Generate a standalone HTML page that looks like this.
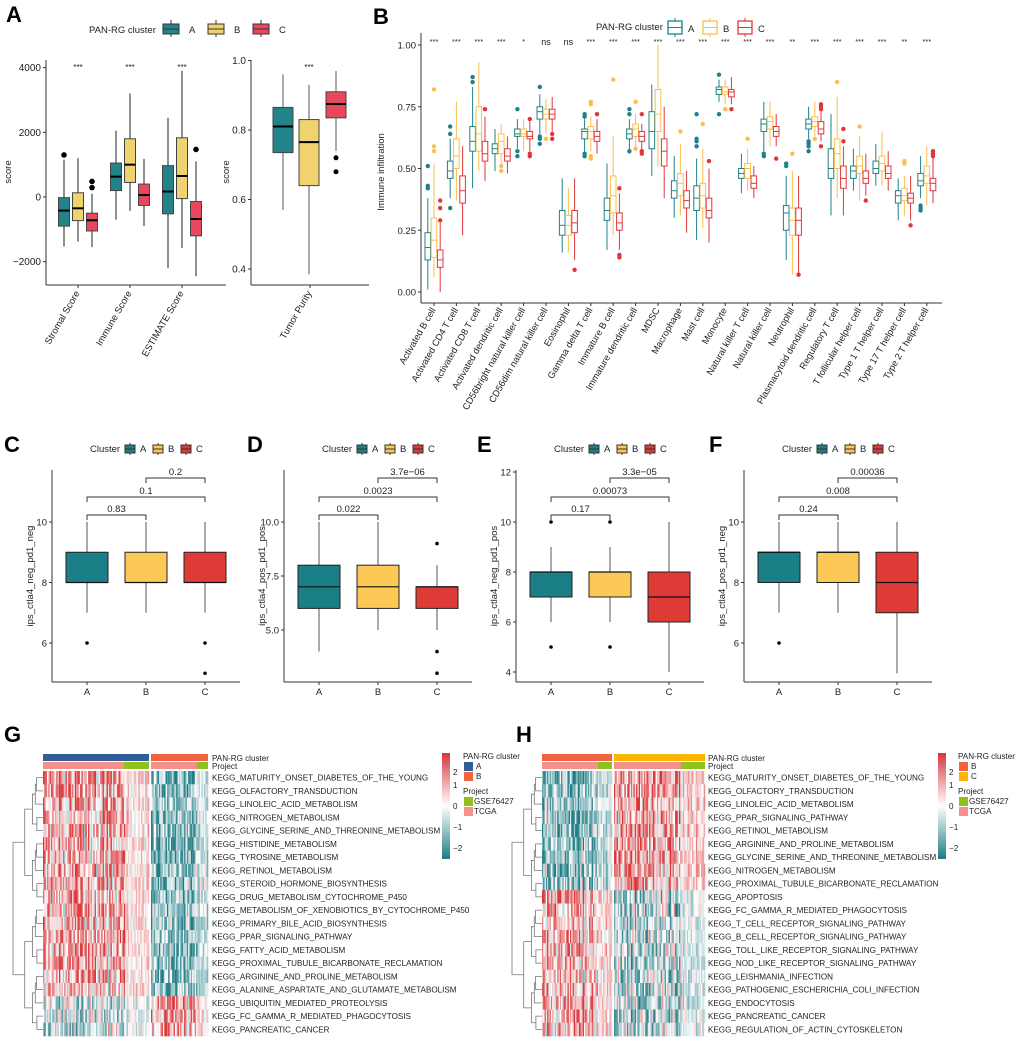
<!DOCTYPE html>
<html><head><meta charset="utf-8">
<style>
html,body{margin:0;padding:0;background:#fff;}
svg{display:block;font-family:"Liberation Sans",Arial,sans-serif;}
</style></head>
<body>
<svg id="fig" width="1020" height="1056" viewBox="0 0 1020 1056" xmlns="http://www.w3.org/2000/svg">
<defs>
<linearGradient id="cbar" x1="0" y1="0" x2="0" y2="1">
<stop offset="0" stop-color="#d9373a"/><stop offset="0.5" stop-color="#ffffff"/><stop offset="1" stop-color="#1d7c85"/>
</linearGradient>
</defs>
<g font-weight="bold" font-size="22" fill="#000">
<text x="6" y="22">A</text>
<text x="373" y="24">B</text>
<text x="4" y="452">C</text>
<text x="247" y="452">D</text>
<text x="477" y="452">E</text>
<text x="709" y="452">F</text>
<text x="4" y="742">G</text>
<text x="516" y="742">H</text>
</g>
<g id="root"></g>
</svg>
<script>
// ---------- Panel A data ----------
const aCategories = ["Stromal Score","Immune Score","ESTIMATE Score"];
const aStatsA = [[-1530,-900,-420,-20,1150],[-700,200,630,1050,2050],[-2200,-520,170,970,2450]];
const aStatsB = [[-1380,-730,-350,130,1200],[-430,450,1000,1800,3200],[-1580,-50,650,1830,3900]];
const aStatsC = [[-1550,-1050,-720,-500,100],[-900,-260,60,400,1180],[-2450,-1200,-680,-140,1100]];
const aOutA = [[1300],[],[]];
const aOutB = [[],[],[]];
const aOutC = [[290,480],[],[1470]];
const aTicks = [-2000,0,2000,4000];
const purityStats = [[0.57,0.735,0.81,0.865,0.96],[0.385,0.64,0.765,0.83,0.93],[0.74,0.835,0.875,0.91,0.97]];
const purityOut = [[],[],[0.72,0.68]];
const purityTicks = [0.4,0.6,0.8,1.0];

// ---------- Panel B data ----------
const bCategories = ["Activated B cell","Activated CD4 T cell","Activated CD8 T cell","Activated dendritic cell","CD56bright natural killer cell","CD56dim natural killer cell","Eosinophil","Gamma delta T cell","Immature  B cell","Immature dendritic cell","MDSC","Macrophage","Mast cell","Monocyte","Natural killer T cell","Natural killer cell","Neutrophil","Plasmacytoid dendritic cell","Regulatory T cell","T follicular helper cell","Type 1 T helper cell","Type 17 T helper cell","Type 2 T helper cell"];
const bSig = ["***","***","***","***","*","ns","ns","***","***","***","***","***","***","***","***","***","**","***","***","***","***","**","***"];
const bStatsA = [[.01,.13,.18,.24,.38],[.38,.46,.49,.53,.62],[.42,.57,.61,.67,.83],[.49,.56,.58,.60,.66],[.58,.63,.64,.66,.70],[.64,.70,.73,.75,.80],[.16,.23,.27,.33,.46],[.56,.62,.65,.66,.70],[.17,.29,.33,.38,.52],[.56,.62,.64,.66,.70],[.47,.58,.65,.73,.84],[.30,.38,.41,.45,.55],[.21,.33,.38,.43,.54],[.77,.80,.82,.83,.86],[.40,.46,.48,.50,.56],[.57,.65,.68,.70,.77],[.13,.25,.32,.35,.47],[.62,.66,.68,.70,.75],[.31,.46,.50,.58,.72],[.41,.46,.49,.51,.58],[.43,.48,.50,.53,.60],[.29,.36,.39,.41,.46],[.38,.43,.45,.48,.55]];
const bStatsB = [[.06,.14,.21,.30,.52],[.37,.50,.55,.62,.77],[.49,.57,.64,.75,.93],[.52,.56,.61,.64,.68],[.57,.63,.64,.66,.70],[.64,.70,.72,.74,.78],[.16,.23,.27,.31,.42],[.57,.62,.65,.67,.71],[.23,.32,.39,.47,.63],[.58,.63,.66,.68,.72],[.51,.65,.72,.82,1.0],[.31,.39,.44,.48,.60],[.26,.34,.39,.44,.58],[.76,.80,.81,.83,.86],[.41,.46,.50,.52,.58],[.59,.66,.69,.71,.77],[.07,.23,.29,.34,.49],[.63,.67,.69,.71,.77],[.38,.50,.56,.62,.79],[.37,.48,.51,.55,.63],[.43,.49,.52,.55,.65],[.31,.37,.39,.42,.47],[.35,.44,.47,.51,.59]];
const bStatsC = [[0,.10,.13,.17,.28],[.23,.36,.41,.47,.59],[.45,.53,.56,.61,.71],[.48,.53,.55,.58,.63],[.57,.62,.63,.65,.69],[.65,.70,.72,.74,.79],[.13,.24,.28,.33,.46],[.56,.61,.63,.65,.70],[.17,.25,.28,.32,.40],[.57,.61,.63,.65,.68],[.38,.51,.57,.62,.75],[.24,.34,.37,.41,.49],[.20,.30,.33,.38,.50],[.76,.79,.81,.82,.87],[.38,.42,.44,.47,.51],[.59,.63,.65,.67,.72],[.07,.23,.29,.34,.47],[.61,.64,.66,.69,.75],[.31,.42,.46,.51,.59],[.39,.44,.46,.49,.56],[.41,.46,.48,.51,.57],[.29,.36,.38,.40,.47],[.36,.41,.44,.46,.56]];
const bOutA = [[.42,.43,.51],[.34,.64,.67],[.85,.87],[],[.55,.57,.74],[.60,.62,.63,.83],[],[.55,.56,.71,.72],[],[.57,.72,.74],[],[],[.59,.61,.62,.72],[.72,.88],[],[.55,.56],[.51,.52],[.57,.59,.60,.61],[],[],[],[],[.33,.34,.35]];
const bOutB = [[.57,.59,.82],[],[],[.49,.51],[],[.62],[],[.54,.55,.76,.77],[.86],[.58,.77],[],[.65],[.68],[.74],[.62],[],[.56],[.62],[.85],[.67],[],[.52,.53],[]];
const bOutC = [[.29,.34,.37],[],[.74],[],[.55,.56,.70],[.62,.64],[.09],[.72],[.14,.15,.42],[.56,.57,.72],[],[],[.53],[.74],[],[.54],[.07],[.59,.74,.75,.76],[.61,.66],[.37],[],[.27],[.55,.56,.57]];
const bTicks = [0,0.25,0.5,0.75,1.0];

// ---------- Panels C-F data ----------
const cfGroups = ["A","B","C"];
const cStats = [[7,8,8,9,10],[7,8,8,9,10],[7,8,8,9,10]];
const cOut = [[6],[],[6,5]];
const cP = ["0.83","0.1","0.2"];
const cTicks = [6,8,10];
const dStats = [[4,6,7,8,10],[5,6,7,8,10],[5,6,7,7,8]];
const dOut = [[],[],[9,4,3]];
const dP = ["0.022","0.0023","3.7e\u221206"];
const dTicks = [5.0,7.5,10.0];
const eStats = [[6,7,8,8,9],[6,7,8,8,9],[4,6,7,8,10]];
const eOut = [[10,5],[10,5],[]];
const eP = ["0.17","0.00073","3.3e\u221205"];
const eTicks = [4,6,8,10,12];
const fStats = [[7,8,9,9,10],[7,8,9,9,10],[5,7,8,9,10]];
const fOut = [[6],[],[]];
const fP = ["0.24","0.008","0.00036"];
const fTicks = [6,8,10];

// ---------- Heatmap data ----------
const gRowLabels = ["MATURITY_ONSET_DIABETES_OF_THE_YOUNG","OLFACTORY_TRANSDUCTION","LINOLEIC_ACID_METABOLISM","NITROGEN_METABOLISM","GLYCINE_SERINE_AND_THREONINE_METABOLISM","HISTIDINE_METABOLISM","TYROSINE_METABOLISM","RETINOL_METABOLISM","STEROID_HORMONE_BIOSYNTHESIS","DRUG_METABOLISM_CYTOCHROME_P450","METABOLISM_OF_XENOBIOTICS_BY_CYTOCHROME_P450","PRIMARY_BILE_ACID_BIOSYNTHESIS","PPAR_SIGNALING_PATHWAY","FATTY_ACID_METABOLISM","PROXIMAL_TUBULE_BICARBONATE_RECLAMATION","ARGININE_AND_PROLINE_METABOLISM","ALANINE_ASPARTATE_AND_GLUTAMATE_METABOLISM","UBIQUITIN_MEDIATED_PROTEOLYSIS","FC_GAMMA_R_MEDIATED_PHAGOCYTOSIS","PANCREATIC_CANCER"];
const gMeanFirst = [1.1,1.0,1.0,0.9,1.0,0.9,0.9,1.0,0.9,0.9,0.9,0.9,1.0,1.0,1.0,0.9,0.9,-0.6,-0.6,-0.6];
const gMeanSecond = [-1.3,-1.2,-1.2,-1.2,-1.4,-1.3,-1.2,-1.3,-1.2,-1.2,-1.2,-1.2,-1.2,-1.3,-1.2,-1.2,-1.2,1.0,1.0,1.0];
const hRowLabels = ["MATURITY_ONSET_DIABETES_OF_THE_YOUNG","OLFACTORY_TRANSDUCTION","LINOLEIC_ACID_METABOLISM","PPAR_SIGNALING_PATHWAY","RETINOL_METABOLISM","ARGININE_AND_PROLINE_METABOLISM","GLYCINE_SERINE_AND_THREONINE_METABOLISM","NITROGEN_METABOLISM","PROXIMAL_TUBULE_BICARBONATE_RECLAMATION","APOPTOSIS","FC_GAMMA_R_MEDIATED_PHAGOCYTOSIS","T_CELL_RECEPTOR_SIGNALING_PATHWAY","B_CELL_RECEPTOR_SIGNALING_PATHWAY","TOLL_LIKE_RECEPTOR_SIGNALING_PATHWAY","NOD_LIKE_RECEPTOR_SIGNALING_PATHWAY","LEISHMANIA_INFECTION","PATHOGENIC_ESCHERICHIA_COLI_INFECTION","ENDOCYTOSIS","PANCREATIC_CANCER","REGULATION_OF_ACTIN_CYTOSKELETON"];
const hMeanFirst = [-1.2,-1.1,-1.1,-1.2,-1.2,-1.2,-1.2,-1.2,-1.2,1.1,1.0,1.0,1.0,1.0,1.0,1.0,1.0,1.0,0.9,0.9];
const hMeanSecond = [1.1,1.1,1.1,1.2,1.2,1.2,1.2,1.1,1.1,-0.8,-0.8,-0.8,-0.8,-0.8,-0.8,-0.8,-0.8,-0.8,-0.7,-0.7];

// ---------- helpers ----------
const NS = "http://www.w3.org/2000/svg";
const root = document.getElementById("root");
function mk(tag, attrs, parent){ const e=document.createElementNS(NS,tag); for(const k in attrs) e.setAttribute(k,attrs[k]); (parent||root).appendChild(e); return e; }
function txt(x,y,s,size,anchor,parent,extra){ const t=mk("text",Object.assign({x:x,y:y,"font-size":size,"text-anchor":anchor||"start",fill:"#222"},extra||{}),parent); t.textContent=s; return t; }
function boxplot(cx,w,s,yf,fill,stroke,medColor,medW,whiskColor,name){
  const g=mk("g",{});
  
  
  mk("line",{x1:cx,x2:cx,y1:yf(s[4]),y2:yf(s[3]),stroke:whiskColor,"stroke-width":1},g);
  mk("line",{x1:cx,x2:cx,y1:yf(s[1]),y2:yf(s[0]),stroke:whiskColor,"stroke-width":1},g);
  mk("rect",{x:cx-w/2,y:yf(s[3]),width:w,height:Math.max(0.5,yf(s[1])-yf(s[3])),fill:fill,stroke:stroke,"stroke-width":1},g);
  mk("line",{x1:cx-w/2,x2:cx+w/2,y1:yf(s[2]),y2:yf(s[2]),stroke:medColor,"stroke-width":medW},g);
  return g;
}
function dots(cx,vals,yf,r,color,name){
  vals.forEach(v=>{ const c=mk("circle",{cx:cx,cy:yf(v),r:r,fill:color});
    
     });
}
function axisY(x,y0,y1,ticks,yf,fmt,size){
  mk("line",{x1:x,x2:x,y1:y0,y2:y1,stroke:"#333","stroke-width":1});
  ticks.forEach(t=>{ const y=yf(t); mk("line",{x1:x-3,x2:x,y1:y,y2:y,stroke:"#333"}); txt(x-5,y+3.5,fmt(t),size,"end"); });
}

// ---------- Panel A ----------
const aCol=["#23838b","#f0d36e","#e8485e"];
(function(){
  const lg=mk("g",{});  
  txt(89,33,"PAN-RG cluster",9.5,"start",lg);
  ["A","B","C"].forEach((k,i)=>{ const x=163+i*45;
    mk("line",{x1:x+8,x2:x+8,y1:20,y2:37,stroke:"#333"},lg);
    mk("rect",{x:x,y:24,width:16,height:10,fill:aCol[i],stroke:"#333"},lg);
    mk("line",{x1:x,x2:x+16,y1:29,y2:29,stroke:"#333"},lg);
    txt(x+26,33,k,9.5,"start",lg); });
  const yf=v=>197-v*0.03235;
  axisY(46,60,285,aTicks,yf,t=>t<0?"\u2212"+Math.abs(t):String(t),10);
  mk("line",{x1:46,x2:226,y1:285,y2:285,stroke:"#333"});
  const cs=[78,130,182];
  aCategories.forEach((c,i)=>{
    const cx=cs[i];
    [aStatsA,aStatsB,aStatsC].forEach((st,j)=>{ const x=cx+(j-1)*14;
      boxplot(x,11,st[i],yf,aCol[j],"#444","#000",2,"#222","box-a-"+i+"-"+j);
      dots(x,[aOutA,aOutB,aOutC][j][i],yf,2.8,"#000","outlier"); });
    txt(cx,70,"***",8,"middle");
    mk("line",{x1:cx,x2:cx,y1:285,y2:288,stroke:"#333"});
    txt(cx+2,293,c,9.5,"end",null,{transform:"rotate(-60 "+(cx+2)+" 293)"});
  });
  const yp=v=>130-(v-0.8)*347.5;
  axisY(251,60,285,purityTicks,yp,t=>t.toFixed(1),10);
  mk("line",{x1:251,x2:369,y1:285,y2:285,stroke:"#333"});
  [283,309,336].forEach((x,j)=>{ boxplot(x,20,purityStats[j],yp,aCol[j],"#444","#000",2,"#555","box-purity-"+j); dots(x,purityOut[j],yp,2.5,"#000","outlier"); });
  txt(309,70,"***",8,"middle");
  mk("line",{x1:310,x2:310,y1:285,y2:288,stroke:"#333"});
  txt(312,293,"Tumor Purity",9.5,"end",null,{transform:"rotate(-60 312 293)"});
  txt(0,0,"score",9.5,"middle",null,{transform:"translate(11 172) rotate(-90)"});
  txt(0,0,"score",9.5,"middle",null,{transform:"translate(229 172) rotate(-90)"});
})();

// ---------- Panel B ----------
const bCol=["#1f8189","#fbbf4a","#e0363b"];
(function(){
  const lg=mk("g",{});  
  txt(596,30,"PAN-RG cluster",9.5,"start",lg);
  ["A","B","C"].forEach((k,i)=>{ const x=668+i*35;
    mk("line",{x1:x+7,x2:x+7,y1:18,y2:37,stroke:bCol[i]},lg);
    mk("rect",{x:x,y:21,width:14,height:13,fill:"#fff",stroke:bCol[i],"stroke-width":1.3},lg);
    mk("line",{x1:x,x2:x+14,y1:27.5,y2:27.5,stroke:bCol[i]},lg);
    txt(x+20,32,k,9.5,"start",lg); });
  const yf=v=>292-v*247;
  axisY(421,33,303,bTicks,yf,t=>t.toFixed(2),9.5);
  mk("line",{x1:421,x2:942,y1:303,y2:303,stroke:"#333"});
  txt(0,0,"Immune infiltration",9.5,"middle",null,{transform:"translate(384 172) rotate(-90)"});
  const xf=i=>434+i*22.4;
  bCategories.forEach((c,i)=>{
    const cx=xf(i);
    [bStatsA,bStatsB,bStatsC].forEach((st,j)=>{ const x=cx+(j-1)*6.2;
      boxplot(x,5.6,st[i],yf,"#fff",bCol[j],bCol[j],1,bCol[j],"box-b-"+i+"-"+j);
      dots(x,[bOutA,bOutB,bOutC][j][i],yf,2.2,bCol[j],"outlier"); });
    const s=bSig[i]; txt(cx,s==="ns"?45:44,s,s==="ns"?9:7.5,"middle");
    mk("line",{x1:cx,x2:cx,y1:303,y2:306,stroke:"#333"});
    txt(cx+2,310,c,9.3,"end",null,{transform:"rotate(-60 "+(cx+2)+" 310)"});
  });
})();

// ---------- Panels C-F ----------
const cfCol=["#1b7f88","#fdc956","#de3b37"];
function cfPanel(x0,stats,outs,pv,ticks,ppu,ref,fmt,ytitle,key){
  const yf=v=>522-(v-ref)*ppu;
  const lg=mk("g",{});  
  txt(x0+38,452,"Cluster",9.5,"start",lg);
  ["A","B","C"].forEach((k,i)=>{ const x=x0+73+i*28;
    mk("line",{x1:x+5,x2:x+5,y1:443,y2:455,stroke:"#333"},lg);
    mk("rect",{x:x,y:445,width:10,height:8,fill:cfCol[i],stroke:"#333"},lg);
    mk("line",{x1:x,x2:x+10,y1:449,y2:449,stroke:"#333"},lg);
    txt(x+15,452,k,9.5,"start",lg); });
  mk("line",{x1:x0,x2:x0,y1:470,y2:682,stroke:"#333"});
  ticks.forEach(t=>{ const y=yf(t); mk("line",{x1:x0-3,x2:x0,y1:y,y2:y,stroke:"#333"}); txt(x0-5,y+3.5,fmt(t),9.5,"end"); });
  mk("line",{x1:x0,x2:x0+188,y1:682,y2:682,stroke:"#333"});
  const gx=[x0+35,x0+94,x0+153];
  cfGroups.forEach((g,j)=>{
    boxplot(gx[j],42,stats[j],yf,cfCol[j],"#222","#111",1.2,"#555","box-"+key+"-"+g);
    dots(gx[j],outs[j],yf,1.8,"#000","outlier");
    mk("line",{x1:gx[j],x2:gx[j],y1:682,y2:685,stroke:"#333"});
    txt(gx[j],695,g,9.5,"middle");
  });
  const br=[[0,1,515],[0,2,497],[1,2,478]];
  br.forEach((b,k)=>{ const xa=gx[b[0]], xb=gx[b[1]], y=b[2];
    const p=mk("path",{d:"M"+xa+" "+(y+5)+"V"+y+"H"+xb+"V"+(y+5),fill:"none",stroke:"#333","stroke-width":1});
    
    
    txt((xa+xb)/2,y-3,pv[k],9.5,"middle"); });
  txt(0,0,ytitle,9.5,"middle",null,{transform:"translate("+(x0-19)+" 576) rotate(-90)"});
}
cfPanel(52,cStats,cOut,cP,cTicks,30.25,10,t=>String(t),"ips_ctla4_neg_pd1_neg","c");
cfPanel(284,dStats,dOut,dP,dTicks,21.6,10,t=>t.toFixed(1),"ips_ctla4_pos_pd1_pos","d");
cfPanel(516,eStats,eOut,eP,eTicks,25,10,t=>String(t),"ips_ctla4_neg_pd1_pos","e");
cfPanel(744,fStats,fOut,fP,fTicks,30.25,10,t=>String(t),"ips_ctla4_pos_pd1_neg","f");

// ---------- Heatmaps ----------
function hash(a,b,c){ let h=(a*374761393+b*668265263+c*2147483647)|0; h=(h^(h>>>13))*1274126177|0; h=h^(h>>>16); return ((h>>>0)%10000)/10000; }
function heatColor(v){ v=Math.max(-2.4,Math.min(2.4,v)); const t=Math.abs(v)/2.4;
  const c=v>=0?[217,55,58]:[29,124,133]; const r=Math.round(255+(c[0]-255)*t), g=Math.round(255+(c[1]-255)*t), b=Math.round(255+(c[2]-255)*t);
  return "rgb("+r+","+g+","+b+")"; }
function heatmap(key,x1a,x1b,x2a,x2b,nc1,nc2,green1,green2,labels,m1,m2,clColors,clNames,lbX,cbX,lgX){
  const top=771, rh=13.25, fs=8.1;
  const hg=mk("g",{});  
  mk("rect",{x:x1a,y:754,width:x1b-x1a,height:7,fill:clColors[0]},hg);
  mk("rect",{x:x2a,y:754,width:x2b-x2a,height:7,fill:clColors[1]},hg);
  mk("rect",{x:x1a,y:762,width:green1-x1a,height:7,fill:"#f4918b"},hg);
  mk("rect",{x:green1,y:762,width:x1b-green1,height:7,fill:"#8fc21c"},hg);
  mk("rect",{x:x2a,y:762,width:green2-x2a,height:7,fill:"#f4918b"},hg);
  mk("rect",{x:green2,y:762,width:x2b-green2,height:7,fill:"#8fc21c"},hg);
  txt(lbX,761,"PAN-RG cluster",fs,"start",hg);
  txt(lbX,769,"Project",fs,"start",hg);
  const segs=[[x1a,x1b,nc1,m1,green1],[x2a,x2b,nc2,m2,green2]];
  labels.forEach((lab,r)=>{
    segs.forEach((s,si)=>{
      const w=(s[1]-s[0])/s[2];
      for(let c=0;c<s[2];c++){
        const x=s[0]+c*w;
        let v=s[3][r]+ (hash(c+si*500,r,key.charCodeAt(0))-0.5)*3.0 + (hash(c+si*500,7,3)-0.5)*1.4*Math.sign(s[3][r]);
        if(x>=s[4]) v*=0.5;
        const cell=mk("rect",{x:x.toFixed(2),y:(top+r*rh).toFixed(2),width:(w+0.3).toFixed(2),height:(rh+0.3).toFixed(2),fill:heatColor(v)},hg);
        
        
      }
    });
    txt(lbX,top+r*rh+rh/2+3,"KEGG_"+lab,fs,"start",hg);
  });
  const dg=mk("g",{stroke:"#777","stroke-width":0.8,fill:"none"},hg);
  function tree(a,b,depth){
    if(a===b) return {y:top+a*rh+rh/2, x:x1a};
    const m=Math.floor((a+b)/2);
    const L=tree(a,m,depth+1), R=tree(m+1,b,depth+1);
    const span=b-a+1; const x=x1a-2-Math.min(28,span*1.6+depth*0.3);
    mk("path",{d:"M"+L.x+" "+L.y+"H"+x+"V"+R.y+"H"+R.x},dg);
    return {y:(L.y+R.y)/2, x:x};
  }
  tree(0,labels.length-1,0);
  mk("rect",{x:cbX,y:753,width:8,height:106,fill:"url(#cbar)"},hg);
  [[2,772],[1,785],[0,806],[-1,827],[-2,848]].forEach(t=>{ txt(cbX+11,t[1]+3,t[0]<0?"\u2212"+Math.abs(t[0]):String(t[0]),fs,"start",hg); });
  txt(lgX,759,"PAN-RG cluster",fs,"start",hg);
  mk("rect",{x:lgX+1,y:762,width:9,height:9,fill:clColors[0]},hg); txt(lgX+13,769,clNames[0],fs,"start",hg);
  mk("rect",{x:lgX+1,y:772,width:9,height:9,fill:clColors[1]},hg); txt(lgX+13,779,clNames[1],fs,"start",hg);
  txt(lgX,794,"Project",fs,"start",hg);
  mk("rect",{x:lgX+1,y:797,width:9,height:9,fill:"#8fc21c"},hg); txt(lgX+11,804,"GSE76427",fs,"start",hg);
  mk("rect",{x:lgX+1,y:807,width:9,height:9,fill:"#f4918b"},hg); txt(lgX+11,814,"TCGA",fs,"start",hg);
}
heatmap("g",43,149,151,208,80,43,124,197,gRowLabels,gMeanFirst,gMeanSecond,["#335d97","#f26441"],["A","B"],212,442,463);
heatmap("h",542,612,614,705,55,70,598,681,hRowLabels,hMeanFirst,hMeanSecond,["#f26441","#fbb400"],["B","C"],708,938,958);
</script>
</body></html>
